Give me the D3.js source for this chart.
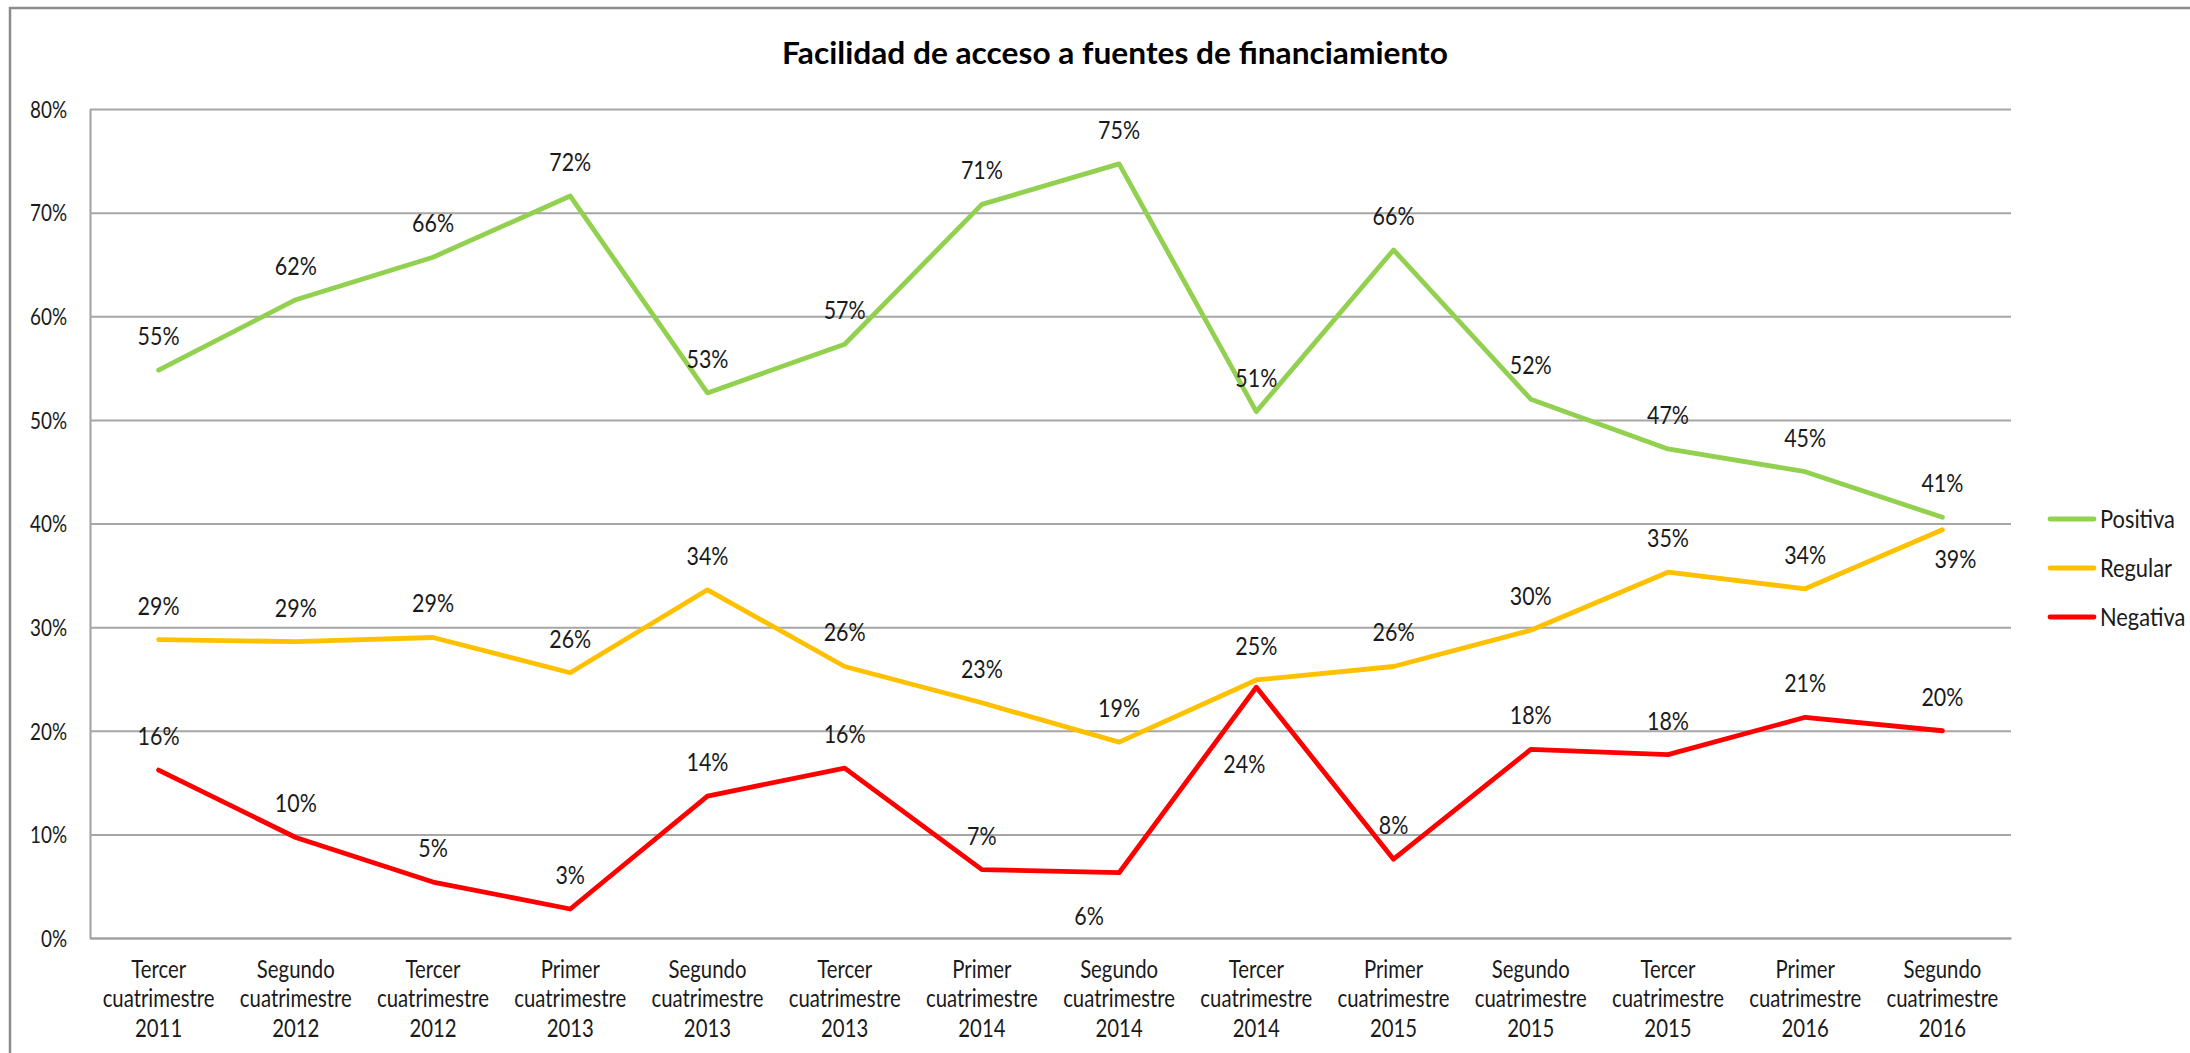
<!DOCTYPE html>
<html>
<head>
<meta charset="utf-8">
<script src="https://cdn.jsdelivr.net/npm/d3@7"></script>
<style>
  html, body { margin: 0; padding: 0; background: #ffffff; }
  svg { display: block; }
</style>
</head>
<body>
<svg id="chart" width="2190" height="1053"></svg>
<script>
// ---------- data ----------
const title = "Facilidad de acceso a fuentes de financiamiento";
const categories = [
  "Tercer cuatrimestre 2011",
  "Segundo cuatrimestre 2012",
  "Tercer cuatrimestre 2012",
  "Primer cuatrimestre 2013",
  "Segundo cuatrimestre 2013",
  "Tercer cuatrimestre 2013",
  "Primer cuatrimestre 2014",
  "Segundo cuatrimestre 2014",
  "Tercer cuatrimestre 2014",
  "Primer cuatrimestre 2015",
  "Segundo cuatrimestre 2015",
  "Tercer cuatrimestre 2015",
  "Primer cuatrimestre 2016",
  "Segundo cuatrimestre 2016"
];
const seriesNames = ["Positiva", "Regular", "Negativa"];
const positiva = [54.8, 61.6, 65.7, 71.6, 52.6, 57.3, 70.8, 74.7, 50.8, 66.4, 52.0, 47.2, 45.0, 40.6];
const regular  = [28.8, 28.6, 29.0, 25.6, 33.6, 26.2, 22.7, 18.9, 24.9, 26.2, 29.7, 35.3, 33.7, 39.4];
const negativa = [16.2, 9.7, 5.4, 2.8, 13.7, 16.4, 6.6, 6.3, 24.2, 7.6, 18.2, 17.7, 21.3, 20.0];
const yTicks = [0, 10, 20, 30, 40, 50, 60, 70, 80];

// ---------- styles / layout ----------
const colors = { Positiva: "#92D050", Regular: "#FFC000", Negativa: "#FF0000" };
const FONT = "Lato, 'Open Sans', sans-serif";
const plot = { left: 90, right: 2011, top: 109, bottom: 938 };
// manual label nudges (dx, center dy) for labels moved off their default "above" spot
const labelNudges = {
  Regular: { 13: [13, 29.5] },
  Negativa: { 7: [-30, 43], 8: [-12, 76.5] }
};
const SZ = { label: 25, tick: 23, cat: 24.5, legend: 25.5, title: 30.5 };

const svg = d3.select("#chart");

function measure(text, size, weight) {
  const t = svg.append("text")
    .attr("font-family", FONT).attr("font-size", size).attr("font-weight", weight || "normal")
    .text(text);
  const w = t.node().getComputedTextLength();
  t.remove();
  return w;
}
// horizontal squeeze factors so that the chosen font matches the reference widths
const sxLabel  = 42 / measure("55%", SZ.label);
const sxTick   = 37 / measure("80%", SZ.tick);
const sxCat    = 112 / measure("cuatrimestre", SZ.cat);
const sxLegend = 75 / measure("Positiva", SZ.legend);
const sxTitle  = 666 / measure(title, SZ.title, "bold");

// outer chart border (top + left visible)
svg.append("path")
  .attr("d", "M10,1053 V8 H2190")
  .attr("fill", "none")
  .attr("stroke", "#8c8c8c")
  .attr("stroke-width", 2.5);

// title
svg.append("text")
  .attr("transform", `translate(1115,64) scale(${sxTitle},1)`)
  .attr("text-anchor", "middle")
  .attr("font-family", FONT).attr("font-size", SZ.title).attr("font-weight", "bold")
  .attr("fill", "#000")
  .text(title);

// scales
const x = d3.scaleBand().domain(categories).range([plot.left, plot.right]);
const xc = c => x(c) + x.bandwidth() / 2;
const y = d3.scaleLinear().domain([0, 80]).range([plot.bottom, plot.top]);

// y axis with gridlines
const yAxis = svg.append("g")
  .attr("transform", `translate(${plot.left},0)`)
  .call(d3.axisLeft(y).tickValues(yTicks).tickFormat(d => d + "%")
    .tickSizeInner(-(plot.right - plot.left)).tickSizeOuter(0));
yAxis.select(".domain").attr("stroke", "#a0a0a0").attr("stroke-width", 2);
yAxis.selectAll(".tick line").attr("stroke", "#a6a6a6").attr("stroke-width", 2);
yAxis.selectAll(".tick text")
  .attr("font-family", FONT).attr("font-size", SZ.tick).attr("fill", "#1a1a1a")
  .attr("x", 0).attr("dy", "0.36em")
  .attr("transform", `translate(-23,0) scale(${sxTick},1)`);

// x axis
const xAxis = svg.append("g")
  .attr("transform", `translate(0,${plot.bottom})`)
  .call(d3.axisBottom(x).tickSize(0).tickSizeOuter(0));
xAxis.select(".domain").attr("stroke", "#a0a0a0").attr("stroke-width", 2);
xAxis.selectAll(".tick text").each(function(d) {
  const parts = d.split(" ");
  const t = d3.select(this);
  t.text(null)
    .attr("y", 0).attr("dy", null)
    .attr("font-family", FONT).attr("font-size", SZ.cat).attr("fill", "#1a1a1a")
    .attr("text-anchor", "middle")
    .attr("transform", `scale(${sxCat},1)`);
  parts.forEach((p, i) => {
    t.append("tspan").attr("x", 0).attr("y", 40 + i * 29.5).text(p);
  });
});

// lines
const seriesData = { Positiva: positiva, Regular: regular, Negativa: negativa };
const line = d3.line()
  .x((d, i) => xc(categories[i]))
  .y(d => y(d));

seriesNames.forEach(name => {
  svg.append("path")
    .datum(seriesData[name])
    .attr("fill", "none")
    .attr("stroke", colors[name])
    .attr("stroke-width", 4.8)
    .attr("stroke-linejoin", "round")
    .attr("stroke-linecap", "round")
    .attr("d", line);
});

// data labels
const fmt = d3.format(".0f");
const capHalf = SZ.label * 0.7165 / 2;
seriesNames.forEach(name => {
  const vals = seriesData[name];
  svg.append("g").selectAll("text")
    .data(vals)
    .join("text")
    .attr("transform", (d, i) => {
      const n = (labelNudges[name] || {})[i];
      const dx = n ? n[0] : 0;
      const dy = n ? n[1] : -34;
      return `translate(${xc(categories[i]) + dx},${y(d) + dy + capHalf}) scale(${sxLabel},1)`;
    })
    .attr("text-anchor", "middle")
    .attr("font-family", FONT).attr("font-size", SZ.label).attr("fill", "#1a1a1a")
    .text(d => fmt(d) + "%");
});

// legend
const legendY = d3.scalePoint().domain(seriesNames).range([519, 617]);
const legend = svg.append("g");
seriesNames.forEach(name => {
  const ly = legendY(name);
  legend.append("line")
    .attr("x1", 2050).attr("x2", 2094).attr("y1", ly).attr("y2", ly)
    .attr("stroke", colors[name]).attr("stroke-width", 4.8)
    .attr("stroke-linecap", "round");
  legend.append("text")
    .attr("transform", `translate(2100,${ly + SZ.legend * 0.7165 / 2}) scale(${sxLegend},1)`)
    .attr("font-family", FONT).attr("font-size", SZ.legend).attr("fill", "#1a1a1a")
    .text(name);
});
</script>
</body>
</html>
